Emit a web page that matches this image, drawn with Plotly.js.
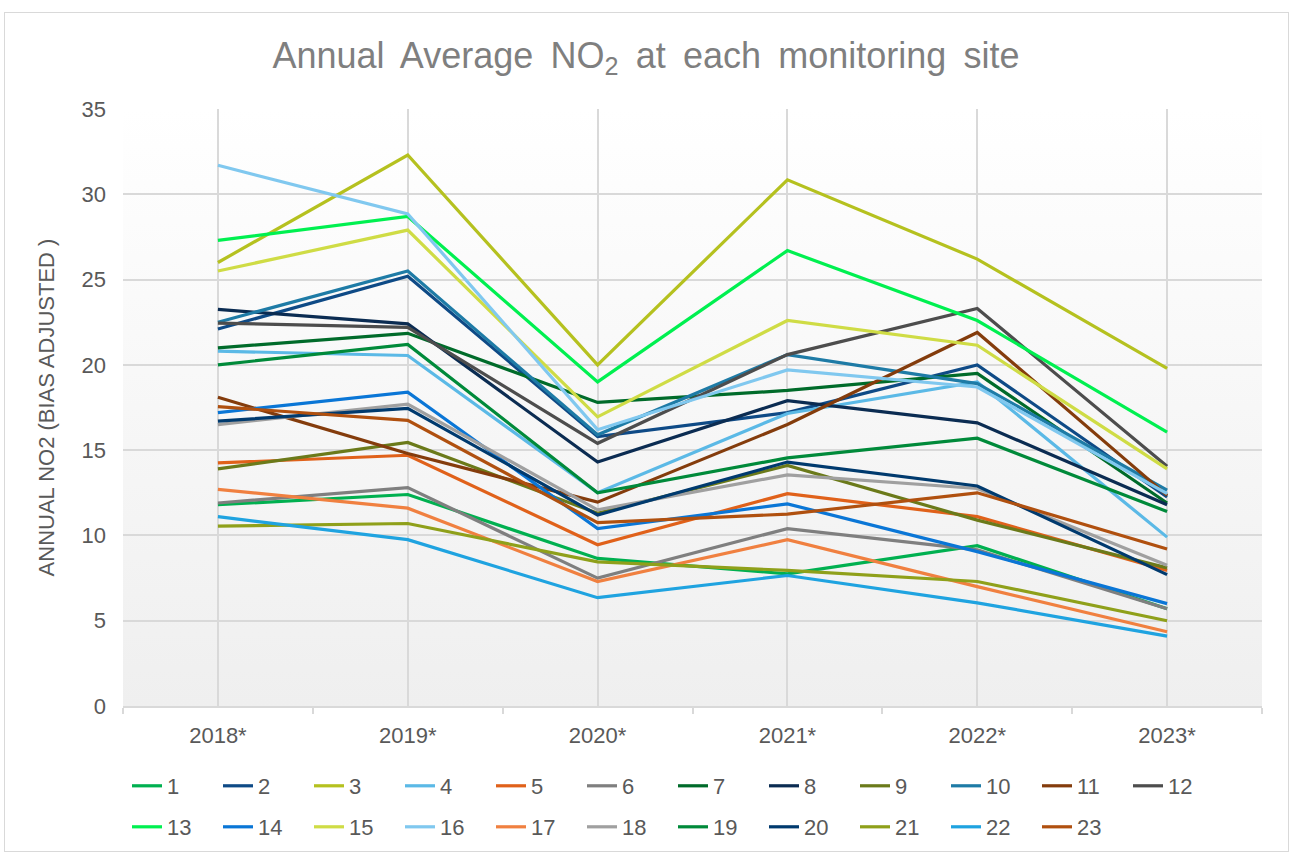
<!DOCTYPE html>
<html>
<head>
<meta charset="utf-8">
<script src="https://cdn.plot.ly/plotly-3.0.1.min.js"></script>
<style>
  html, body { margin: 0; padding: 0; background: #ffffff; }
  #wrap { position: relative; width: 1292px; height: 855px; }
  #frame { position: absolute; left: 4px; top: 12px; width: 1285px; height: 840px; border: 1px solid #d9d9d9; box-sizing: border-box; }
  #bg { position: absolute; left: 123px; top: 109px; width: 1139px; height: 597px; background: linear-gradient(#ffffff, #efefef); }
  #chart { position: absolute; left: 0; top: 0; width: 1292px; height: 855px; }
</style>
</head>
<body>
<div id="wrap">
  <div id="frame"></div>
  <div id="bg"></div>
  <div id="chart"></div>
</div>
<script>
const years = ["2018*", "2019*", "2020*", "2021*", "2022*", "2023*"];

const site1  = [11.8, 12.4, 8.65, 7.75, 9.4, 5.7];
const site2  = [22.1, 25.2, 15.8, 17.2, 20.0, 12.25];
const site3  = [26.0, 32.3, 20.0, 30.85, 26.2, 19.8];
const site4  = [20.8, 20.55, 12.5, 17.15, 19.0, 9.9];
const site5  = [14.25, 14.7, 9.45, 12.45, 11.1, 7.95];
const site6  = [11.9, 12.8, 7.5, 10.4, 9.15, 5.7];
const site7  = [21.0, 21.85, 17.8, 18.5, 19.5, 11.9];
const site8  = [23.25, 22.4, 14.3, 17.9, 16.6, 11.8];
const site9  = [13.9, 15.45, 11.3, 14.1, 10.9, 8.1];
const site10 = [22.5, 25.5, 15.9, 20.6, 18.9, 12.65];
const site11 = [18.1, 14.8, 11.95, 16.5, 21.9, 12.35];
const site12 = [22.45, 22.2, 15.4, 20.6, 23.3, 14.05];
const site13 = [27.3, 28.7, 19.0, 26.7, 22.6, 16.05];
const site14 = [17.2, 18.4, 10.4, 11.85, 9.05, 6.0];
const site15 = [25.5, 27.9, 16.95, 22.6, 21.15, 13.9];
const site16 = [31.7, 28.85, 16.2, 19.7, 18.7, 12.45];
const site17 = [12.7, 11.6, 7.3, 9.75, 7.0, 4.35];
const site18 = [16.5, 17.7, 11.5, 13.55, 12.75, 8.25];
const site19 = [20.0, 21.2, 12.5, 14.55, 15.7, 11.4];
const site20 = [16.7, 17.45, 11.2, 14.3, 12.9, 7.7];
const site21 = [10.55, 10.7, 8.45, 7.95, 7.3, 5.0];
const site22 = [11.1, 9.75, 6.35, 7.65, 6.05, 4.1];
const site23 = [17.55, 16.75, 10.75, 11.25, 12.5, 9.2];

const siteNames = ["1","2","3","4","5","6","7","8","9","10","11","12","13","14","15","16","17","18","19","20","21","22","23"];
const siteValues = [site1, site2, site3, site4, site5, site6, site7, site8, site9, site10, site11, site12,
                    site13, site14, site15, site16, site17, site18, site19, site20, site21, site22, site23];
const siteColors = ["#00b050", "#0e4a86", "#b5c11f", "#5bb9e6", "#e0611a", "#7f7f7f", "#006b2a", "#0b2c52",
                    "#6b7a1a", "#1e7ba6", "#843c0c", "#4d4d4d", "#00f050", "#0a76d6", "#cfdc45", "#80c8ef",
                    "#f08040", "#a0a0a0", "#008a3a", "#003a6e", "#8fa01a", "#1fa3e0", "#b0500f"];

const traces = siteNames.map((name, i) => ({
  type: "scatter",
  mode: "lines",
  name: name,
  x: years,
  y: siteValues[i],
  line: { color: siteColors[i], width: 3.2 },
  legend: i < 12 ? "legend" : "legend2",
  hoverinfo: "x+y+name"
}));

// dummy trace for the boundary-tick axis
traces.push({
  type: "scatter", mode: "lines", x: years, y: years.map(() => null),
  xaxis: "x2", showlegend: false, hoverinfo: "skip"
});

const fam = "Liberation Sans, Arial, sans-serif";
const tickFont = { family: fam, size: 22, color: "#595959" };
const legendFont = { family: fam, size: 22, color: "#595959" };

const layout = {
  width: 1292,
  height: 855,
  paper_bgcolor: "rgba(0,0,0,0)",
  plot_bgcolor: "rgba(0,0,0,0)",
  margin: { l: 123, r: 30, t: 109, b: 149, autoexpand: false },
  title: {
    text: "Annual\u2009 Average\u2009 NO<sub>2</sub>\u2009 at\u2009 each\u2009 monitoring\u2009 site",
    font: { family: fam, size: 36, color: "#7f7f7f" },
    x: 0.5, xanchor: "center", xref: "container",
    y: 1 - 55 / 855, yanchor: "middle", yref: "container"
  },
  xaxis: {
    type: "category",
    categoryarray: years,
    range: [-0.5, 5.5],
    showgrid: true,
    gridcolor: "#d9d9d9",
    gridwidth: 2,
    showline: false,
    ticks: "",
    tickfont: tickFont,
    ticklabelstandoff: 14,
    fixedrange: true
  },
  xaxis2: {
    type: "category",
    categoryarray: years,
    range: [-0.5, 5.5],
    overlaying: "x",
    side: "bottom",
    anchor: "y",
    tickson: "boundaries",
    ticks: "outside",
    ticklen: 6,
    tickcolor: "#d9d9d9",
    tickwidth: 2,
    showgrid: false,
    showline: true,
    linecolor: "#d9d9d9",
    linewidth: 2,
    showticklabels: false,
    fixedrange: true
  },
  yaxis: {
    range: [0, 35],
    dtick: 5,
    tick0: 0,
    showgrid: true,
    gridcolor: "#d9d9d9",
    gridwidth: 2,
    zeroline: false,
    showline: false,
    ticks: "",
    tickfont: tickFont,
    ticklabelstandoff: 16,
    title: {
      text: "ANNUAL NO2 (BIAS ADJUSTED )",
      font: { family: fam, size: 22, color: "#595959" },
      standoff: 20
    },
    fixedrange: true
  },
  legend: {
    orientation: "h",
    xref: "container", x: 127 / 1292, xanchor: "left",
    yref: "container", y: 1 - 765 / 855, yanchor: "top",
    entrywidth: 46, entrywidthmode: "pixels",
    font: legendFont,
    bgcolor: "rgba(0,0,0,0)",
    itemwidth: 30,
    traceorder: "normal"
  },
  legend2: {
    orientation: "h",
    xref: "container", x: 127 / 1292, xanchor: "left",
    yref: "container", y: 1 - 806 / 855, yanchor: "top",
    entrywidth: 46, entrywidthmode: "pixels",
    font: legendFont,
    bgcolor: "rgba(0,0,0,0)",
    itemwidth: 30,
    traceorder: "normal"
  },
  showlegend: true
};

Plotly.newPlot("chart", traces, layout, { displayModeBar: false });
</script>
</body>
</html>
